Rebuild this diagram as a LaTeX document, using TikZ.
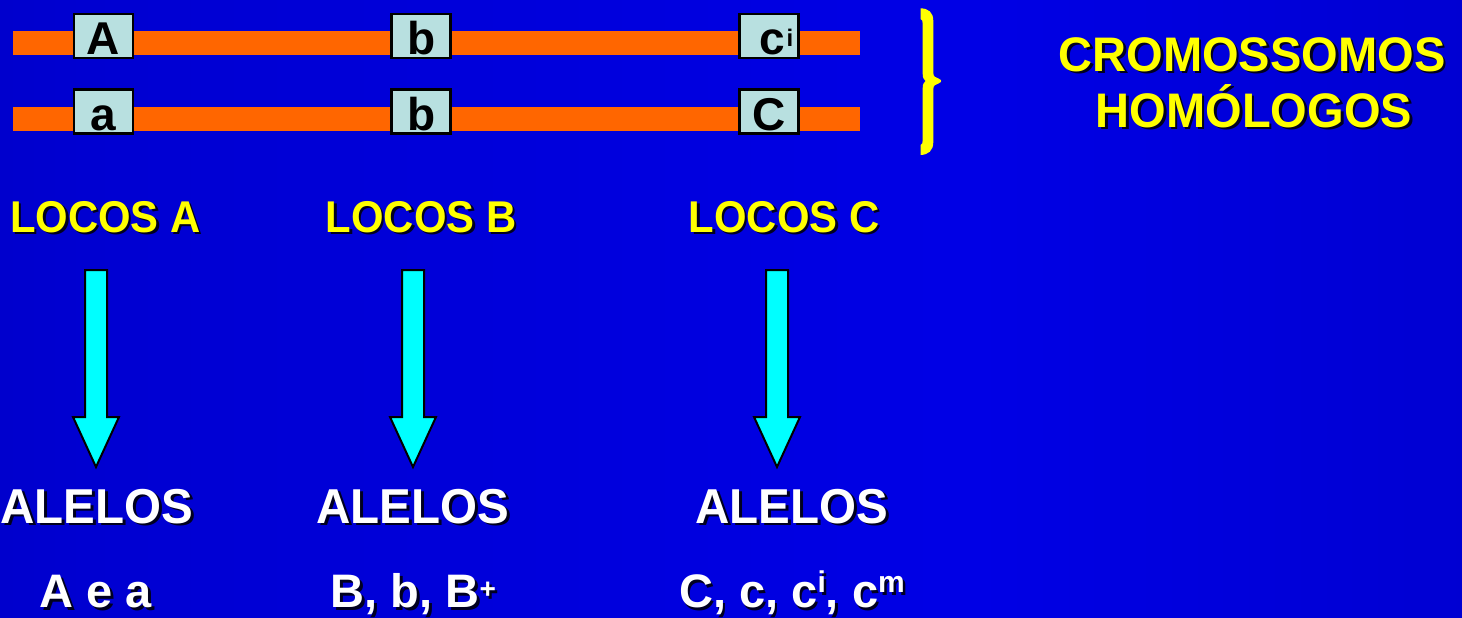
\documentclass[tikz,border=0pt]{standalone}
\usepackage{fontspec}
\setmainfont{Liberation Sans}
\newfontfamily\hvLoc[FakeStretch=0.94]{Liberation Sans}
\newfontfamily\hvTit[FakeStretch=0.97]{Liberation Sans}
\usetikzlibrary{calc}
\definecolor{bgA}{rgb}{0,0,0.56}
\definecolor{bgB}{rgb}{0,0,0.70}
\definecolor{bgC}{rgb}{0,0,0.82}
\definecolor{bgE}{rgb}{0,0,0.90}
\definecolor{orng}{RGB}{255,102,0}
\definecolor{boxc}{RGB}{184,224,224}
\definecolor{ylw}{RGB}{255,255,0}
\definecolor{cyn}{RGB}{0,255,255}
\pgfdeclarehorizontalshading{bgh}{100bp}{color(0bp)=(bgA); color(6bp)=(bgB); color(28bp)=(bgC); color(58bp)=(bgE); color(76bp)=(bgC); color(93bp)=(bgB); color(100bp)=(bgA)}
\newcommand\shtxt[4]{% name, position, style, text
  \node[#3, text=black, opacity=0.85, xshift=2.5pt, yshift=-2.5pt] (#1sh) at #2 {#4};
  \node[#3] (#1) at #2 {#4};}
\newcommand\blockarr[2]{% top, tip
  \draw[blockarrow] ($(#1)+(-11,0)$) -- ($(#1)+(11,0)$) -- ($(#2)+(11,-50)$) -- ($(#2)+(23,-50)$)
    -- (#2) -- ($(#2)+(-23,-50)$) -- ($(#2)+(-11,-50)$) -- cycle;}
\tikzset{
  bar/.style={draw=orng, line width=24pt},
  gbox/.style={draw=black, fill=boxc, line width=2.5pt, minimum width=59pt, minimum height=44pt,
    inner sep=0pt, text height=40.5pt, text depth=3.5pt, text=black,
    font=\fontsize{46}{50}\selectfont\bfseries},
  locus/.style={text=ylw, anchor=base, inner sep=0pt, font=\hvLoc\fontsize{44.5}{48}\selectfont\bfseries},
  title/.style={text=ylw, anchor=base, inner sep=0pt, font=\hvTit\fontsize{48.5}{52}\selectfont\bfseries},
  alelo/.style={text=white, anchor=base, inner sep=0pt, font=\hvTit\fontsize{49}{52}\selectfont\bfseries},
  alist/.style={text=white, anchor=base, inner sep=0pt, font=\fontsize{47}{52}\selectfont\bfseries},
  blockarrow/.style={draw=black, fill=cyn, line width=2pt, line join=miter},
}
\newcommand\sups[1]{\raisebox{15pt}{\fontsize{30}{30}\selectfont #1}}
\begin{document}
\begin{tikzpicture}[x=1pt,y=-1pt]
\useasboundingbox (0,0) rectangle (1462,618);
\fill[shading=bgh] (0,0) rectangle (1462,618);

% chromosomes
\coordinate (c1l) at (13,43); \coordinate (c1r) at (860,43);
\coordinate (c2l) at (13,118.7); \coordinate (c2r) at (860,118.7);
\draw[bar] (c1l) -- (c1r);
\draw[bar] (c2l) -- (c2r);

\node[gbox] (g1A) at (103.5,36) {A};
\node[gbox] (g1B) at (421.2,36) {b};
\node[gbox] (g1C) at (769.2,36) {\kern14pt c\kern2pt\raisebox{8pt}{\fontsize{24}{24}\selectfont i}};
\node[gbox] (g2A) at (103.5,111.5) {a};
\node[gbox] (g2B) at (421.2,111.5) {b};
\node[gbox] (g2C) at (769.2,111.5) {C};

% brace
\fill[ylw] (920.7,8.3) .. controls (928,8.5) and (933.3,12) .. (933.3,21) -- (933.3,73)
  .. controls (933.3,77) and (936,77.5) .. (938.5,78.5) .. controls (942,80) and (942,82) .. (938.5,83.5)
  .. controls (936,84.5) and (933.3,85) .. (933.3,89) -- (933.3,142)
  .. controls (933.3,151) and (928,154.7) .. (920.7,155)
  -- (920.7,145) .. controls (922.3,144) and (922.7,143) .. (922.7,140) -- (922.7,88)
  .. controls (922.7,84) and (924,82.5) .. (925.5,81) .. controls (924,79.5) and (922.7,78) .. (922.7,74)
  -- (922.7,24) .. controls (922.7,21) and (922.3,20) .. (920.7,19) -- cycle;

\shtxt{t1}{(1252,71)}{title}{CROMOSSOMOS}
\shtxt{t2}{(1254,127)}{title}{HOMÓLOGOS}

% loci
\shtxt{lA}{(105.4,232)}{locus}{LOCOS A}
\shtxt{lB}{(421,232)}{locus}{LOCOS B}
\shtxt{lC}{(784,232)}{locus}{LOCOS C}

% arrows
\coordinate (tA) at (96,270); \coordinate (pA) at (96,467);
\coordinate (tB) at (413,270); \coordinate (pB) at (413,467);
\coordinate (tC) at (777,270); \coordinate (pC) at (777,467);
\blockarr{tA}{pA}
\blockarr{tB}{pB}
\blockarr{tC}{pC}

% alleles
\shtxt{aA}{(97,523)}{alelo}{ALELOS}
\shtxt{aB}{(413,523)}{alelo}{ALELOS}
\shtxt{aC}{(792,523)}{alelo}{ALELOS}

\shtxt{xA}{(96,607.5)}{alist}{A e a}
\shtxt{xB}{(413.5,607.5)}{alist}{B, b, B\raisebox{9pt}{\fontsize{28}{28}\selectfont +}}
\shtxt{xC}{(792,607.5)}{alist}{C, c, c\sups{i}, c\sups{m}}
\end{tikzpicture}
\end{document}
